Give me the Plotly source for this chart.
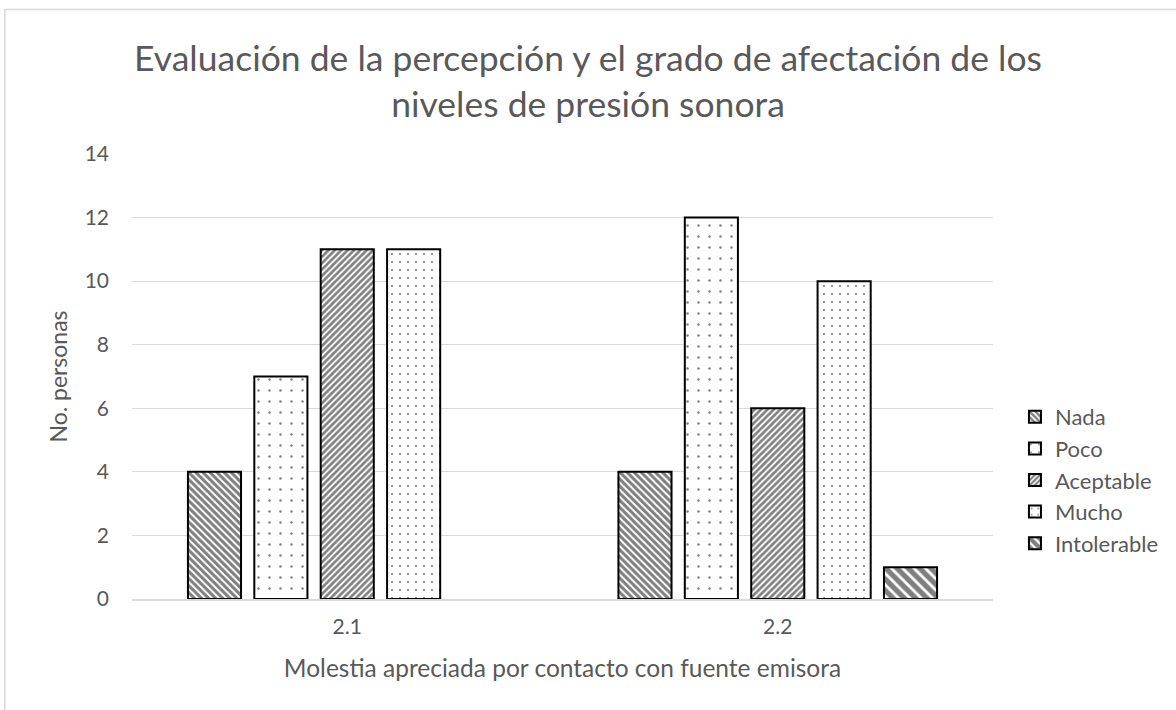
import plotly.graph_objects as go

categories = ["2.1", "2.2"]
series_names = ["Nada", "Poco", "Aceptable", "Mucho", "Intolerable"]
nada = [4, 4]
poco = [7, 12]
aceptable = [11, 6]
mucho = [11, 10]
intolerable = [None, 1]
y_ticks = [0, 2, 4, 6, 8, 10, 12, 14]

values = [nada, poco, aceptable, mucho, intolerable]
patterns = [
    dict(shape="\\", size=5, solidity=0.6),
    dict(shape=".", size=11, solidity=0.04),
    dict(shape="/", size=4.5, solidity=0.6),
    dict(shape=".", size=8, solidity=0.06),
    dict(shape="\\", size=8, solidity=0.65),
]

W, H = 1176, 710
L, R, T, B = 132, 995, 154, 599
GRAY = "#595959"
FONT = "Lato"

fig = go.Figure()
for name, vals, pat in zip(series_names, values, patterns):
    fig.add_trace(go.Bar(
        name=name, x=categories, y=vals, legendgroup=name,
        marker=dict(color="white", line=dict(color="black", width=2),
                    pattern=dict(fgcolor="black", bgcolor="white", fillmode="overlay", **pat)),
    ))

def px_to_paper_x(px):
    return (px - L) / (R - L)

def px_to_paper_y(py):
    return (B - py) / (B - T)

fig.update_layout(
    width=W, height=H,
    margin=dict(l=L, r=W - R, t=T, b=H - B),
    paper_bgcolor="white", plot_bgcolor="white",
    barmode="group", bargap=0.229, bargroupgap=0.2,
    font=dict(family=FONT, color=GRAY, size=20),
    title=dict(
        text="Evaluación de la percepción y el grado de afectación de los<br>niveles de presión sonora",
        x=588 / W, xanchor="center", xref="container", y=1 - 71 / H, yanchor="middle",
        yref="container",
        font=dict(size=35.5, color=GRAY, family=FONT),
    ),
    xaxis=dict(
        title=dict(text="Molestia apreciada por contacto con fuente emisora",
                   font=dict(size=24.5, color=GRAY), standoff=23),
        showgrid=False, showline=True, linecolor="#d9d9d9", linewidth=1.5,
        ticks="", tickfont=dict(size=21, color=GRAY), ticklabelstandoff=8,
    ),
    yaxis=dict(
        title=dict(text="No. personas", font=dict(size=23, color=GRAY), standoff=10),
        range=[0, 14], tickvals=y_ticks, showgrid=True, gridcolor="#d9d9d9", gridwidth=1,
        zeroline=False, showline=False, ticks="", tickfont=dict(size=21, color=GRAY),
        ticklabelstandoff=22,
    ),
    legend=dict(
        x=px_to_paper_x(1017), xanchor="left", y=px_to_paper_y(480), yanchor="middle",
        xref="paper", yref="paper", traceorder="grouped",
        font=dict(size=22, color=GRAY, family=FONT), tracegroupgap=0, itemwidth=30,
        bgcolor="rgba(0,0,0,0)",
    ),
    shapes=[dict(
        type="rect", xref="paper", yref="paper",
        x0=px_to_paper_x(4.5), x1=px_to_paper_x(1185),
        y0=px_to_paper_y(720), y1=px_to_paper_y(9.5),
        line=dict(color="#d9d9d9", width=1.5), fillcolor="rgba(0,0,0,0)", layer="below",
    )],
)

fig.write_html("out.html", config={"displayModeBar": False},
               post_script="document.body.style.margin='0';")
